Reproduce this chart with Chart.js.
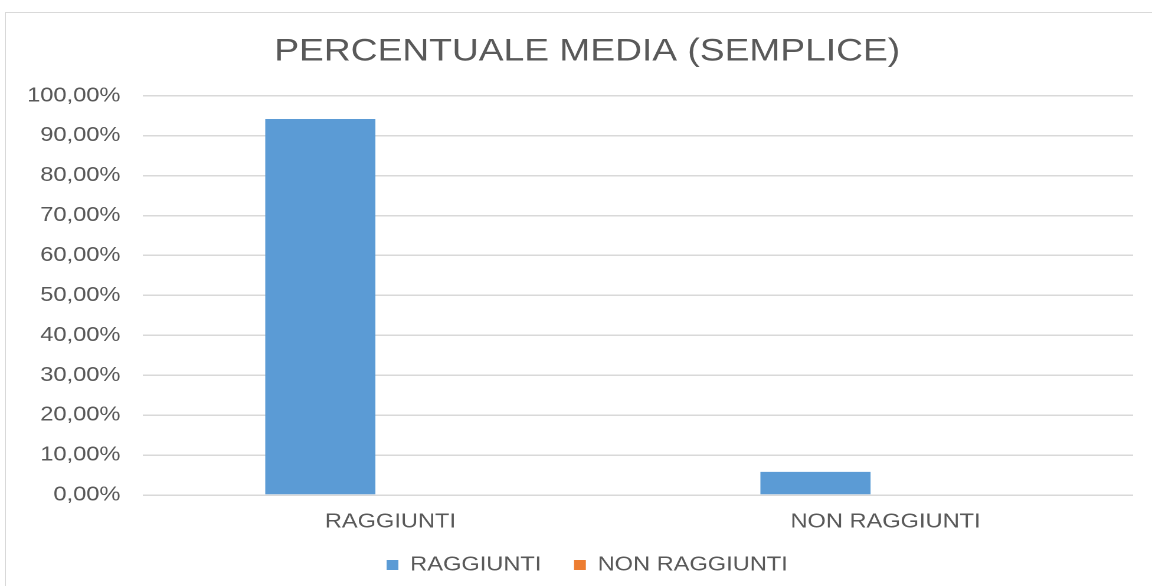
<!DOCTYPE html>
<html>
<head>
<meta charset="utf-8">
<script src="https://cdn.jsdelivr.net/npm/chart.js@4/dist/chart.umd.min.js"></script>
<style>
  html, body { margin: 0; padding: 0; background: #fff; overflow: hidden; }
  #frame {
    position: absolute; left: 5px; top: 12px;
    width: 1200px; height: 640px;
    border: 1px solid #d9d9d9;
  }
  /* the reference is stretched sideways, so draw narrower and stretch */
  #wrap {
    position: absolute; left: 0; top: 0;
    width: 976px; height: 586px;
    transform: scaleX(1.1803); transform-origin: 0 0;
  }
</style>
</head>
<body>
<div id="frame"></div>
<div id="wrap"><canvas id="chart"></canvas></div>
<script>
let categories = ["RAGGIUNTI", "NON RAGGIUNTI"];
let raggiunti = [94.2, 5.8];
let nonRaggiunti = [0, 0];
let yTicks = [0, 10, 20, 30, 40, 50, 60, 70, 80, 90, 100];

let grey = "#595959";
let font = "'Liberation Sans', Arial, sans-serif";

// title and legend sit a bit right of the canvas centre in the original
let shiftBlocks = {
  id: "shiftBlocks",
  afterLayout(c) {
    if (c.titleBlock) c.titleBlock.left += 35;
    if (c.legend) c.legend.left += 35;
  }
};

let ctx = document.getElementById("chart").getContext("2d");

let chart = new Chart(ctx, {
  type: "bar",
  data: {
    labels: categories,
    datasets: [
      { label: "RAGGIUNTI", data: raggiunti, backgroundColor: "#5b9bd5" },
      { label: "NON RAGGIUNTI", data: nonRaggiunti, backgroundColor: "#ed7d31" }
    ]
  },
  options: {
    responsive: true,
    maintainAspectRatio: false,
    animation: false,
    devicePixelRatio: 2,
    categoryPercentage: 0.566,
    barPercentage: 0.786,
    layout: { padding: { left: 0, right: 16, top: 0, bottom: 1 } },
    scales: {
      y: {
        min: 0,
        max: 100,
        afterBuildTicks: s => { s.ticks = yTicks.map(v => ({ value: v })); },
        afterFit: s => { s.width = 121; },
        ticks: {
          color: grey,
          font: { family: font, size: 20 },
          padding: 19,
          callback: v => v.toFixed(2).replace(".", ",") + "%"
        },
        grid: { color: "#d9d9d9", lineWidth: 1.5, drawTicks: false },
        border: { display: false }
      },
      x: {
        afterFit: s => { s.height = 49; },
        ticks: { color: grey, font: { family: font, size: 20 }, padding: 7 },
        grid: { display: false },
        border: { display: false }
      }
    },
    plugins: {
      title: {
        display: true,
        text: "PERCENTUALE MEDIA (SEMPLICE)",
        color: grey,
        font: { family: font, size: 31.5, weight: "normal" },
        padding: { top: 33, bottom: 25 }
      },
      legend: {
        position: "bottom",
        labels: {
          color: grey,
          font: { family: font, size: 20 },
          boxWidth: 10,
          boxHeight: 10,
          padding: 11,
          generateLabels: c => {
            let items = Chart.defaults.plugins.legend.labels.generateLabels(c);
            items.forEach(it => { it.lineWidth = 0; });
            items[0].text = items[0].text + "   ";
            return items;
          }
        }
      },
      tooltip: { enabled: false }
    }
  },
  plugins: [shiftBlocks]
});
</script>
</body>
</html>
